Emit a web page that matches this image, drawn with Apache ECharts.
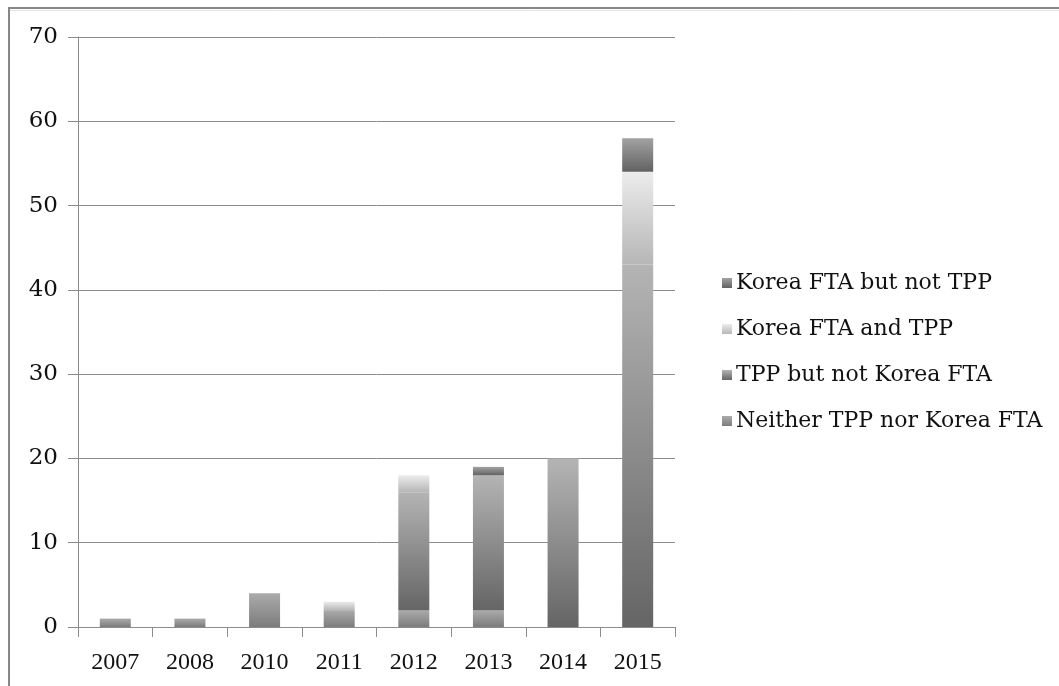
<!DOCTYPE html>
<html>
<head>
<meta charset="utf-8">
<script src="https://cdn.jsdelivr.net/npm/echarts@6/dist/echarts.min.js"></script>
<style>
  html, body { margin: 0; padding: 0; background: #fff; }
  #chart { width: 1059px; height: 686px; }
</style>
</head>
<body>
<div id="chart"></div>
<script>
// Years on the category axis
const years = ['2007', '2008', '2010', '2011', '2012', '2013', '2014', '2015'];

// Stacked counts per year, bottom segment first
const neitherTppNorKorea = [1, 1, 4, 2, 2, 2, 0, 0];
const tppNotKorea        = [0, 0, 0, 0, 14, 16, 20, 43];
const koreaAndTpp        = [0, 0, 0, 1, 2, 0, 0, 11];
const koreaNotTpp        = [0, 0, 0, 0, 0, 1, 0, 4];

// Value axis ticks
const yTicks = [0, 10, 20, 30, 40, 50, 60, 70];

const SERIF = '"Liberation Serif", "DejaVu Serif", serif';
const WIDE_SERIF = '"DejaVu Serif", "Liberation Serif", serif';

function shade(top, bottom) {
  return new echarts.graphic.LinearGradient(0, 0, 0, 1, [
    { offset: 0, color: top },
    { offset: 1, color: bottom }
  ]);
}

function stackSeries(name, data, top, bottom) {
  return {
    name: name,
    type: 'bar',
    stack: 'total',
    barWidth: 31,
    data: data.map(v => (v === 0 ? null : v)),
    itemStyle: { color: shade(top, bottom) },
    emphasis: { disabled: true }
  };
}

const chart = echarts.init(document.getElementById('chart'), null, { renderer: 'canvas' });

chart.setOption({
  animation: false,
  backgroundColor: '#ffffff',
  graphic: [
    {
      type: 'rect',
      shape: { x: 9, y: 8, width: 1100, height: 760 },
      style: { fill: 'none', stroke: '#878787', lineWidth: 2 },
      z: 0
    },
    {
      type: 'line',
      shape: { x1: 10, y1: 10.5, x2: 1059, y2: 10.5 },
      style: { stroke: '#e4e4e4', lineWidth: 1 },
      z: 0
    }
  ],
  grid: { left: 78, right: 384, top: 37, bottom: 59 },
  legend: {
    orient: 'vertical',
    left: 717,
    top: 267,
    itemWidth: 10,
    itemHeight: 10,
    itemGap: 24,
    icon: 'rect',
    data: ['Korea FTA but not TPP', 'Korea FTA and TPP', 'TPP but not Korea FTA', 'Neither TPP nor Korea FTA'],
    textStyle: { fontFamily: WIDE_SERIF, fontSize: 22, color: '#111', padding: [0, 0, 0, -1] }
  },
  xAxis: {
    type: 'category',
    data: years,
    axisLine: { lineStyle: { color: '#8c8c8c', width: 1 } },
    axisTick: { show: true, length: 10, alignWithLabel: false, lineStyle: { color: '#8c8c8c' } },
    axisLabel: { fontFamily: SERIF, fontSize: 24, color: '#111', margin: 24 }
  },
  yAxis: {
    type: 'value',
    min: 0,
    max: 70,
    interval: 10,
    axisLine: { show: true, lineStyle: { color: '#8c8c8c', width: 1 } },
    axisTick: { show: true, length: 10, lineStyle: { color: '#8c8c8c' } },
    splitLine: { show: true, lineStyle: { color: '#8c8c8c', width: 1 } },
    axisLabel: {
      fontFamily: WIDE_SERIF, fontSize: 23, color: '#111', margin: 20,
      formatter: v => (yTicks.includes(v) ? String(v) : '')
    }
  },
  series: [
    stackSeries('Neither TPP nor Korea FTA', neitherTppNorKorea, '#ababab', '#7c7c7c'),
    stackSeries('TPP but not Korea FTA', tppNotKorea, '#b4b4b4', '#656565'),
    stackSeries('Korea FTA and TPP', koreaAndTpp, '#ececec', '#b6b6b6'),
    stackSeries('Korea FTA but not TPP', koreaNotTpp, '#a2a2a2', '#626262')
  ]
});
</script>
</body>
</html>
